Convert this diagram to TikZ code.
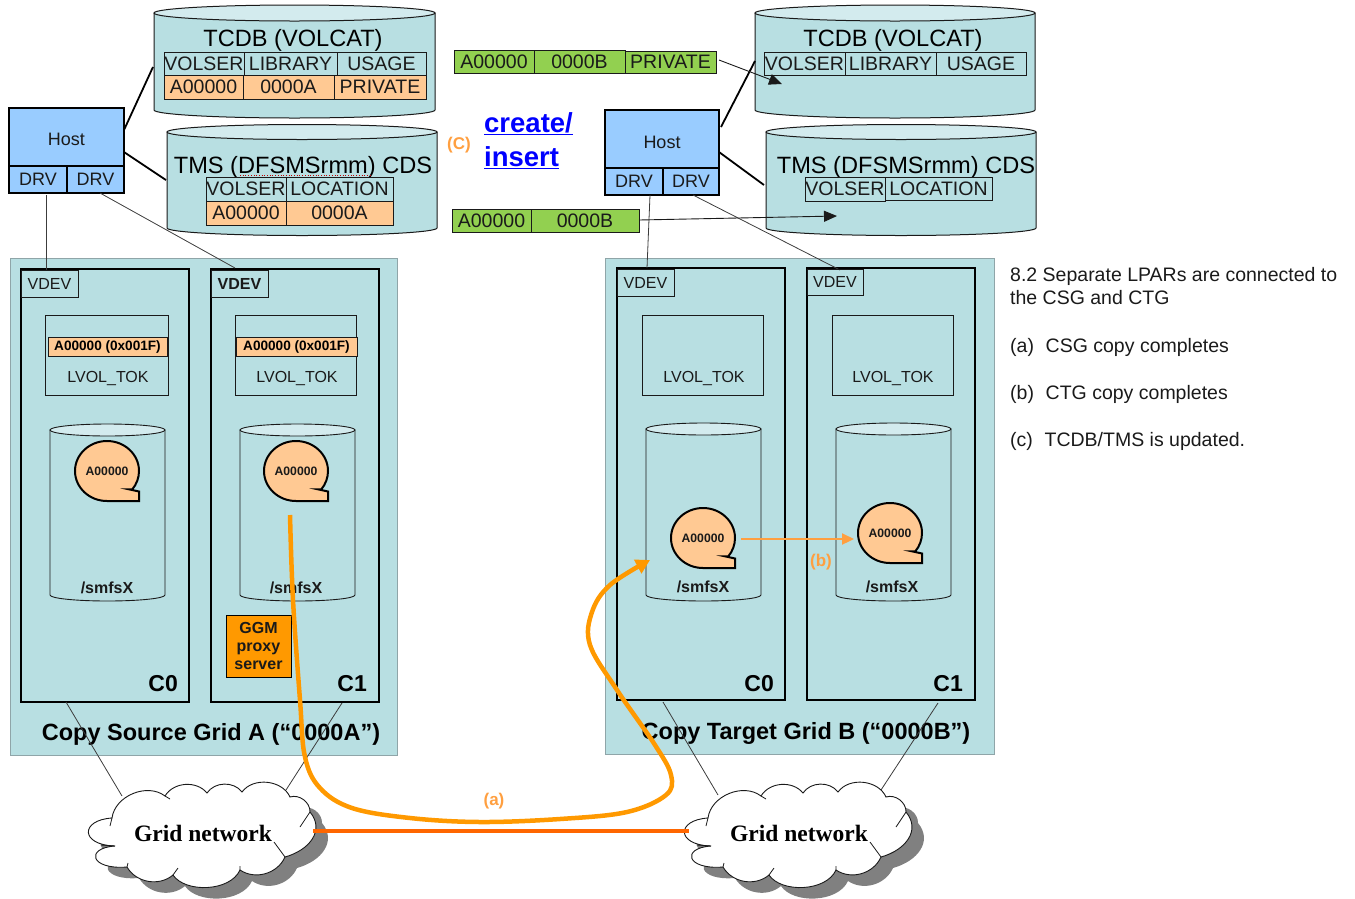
\documentclass[tikz,border=0pt]{standalone}
\usepackage{fontspec}
\setmainfont{Liberation Sans}
\newfontfamily\serifbf{Liberation Serif}
\usetikzlibrary{arrows.meta}
\definecolor{gridfill}{HTML}{B8DFE2}
\definecolor{gridedge}{HTML}{8FA5A8}
\definecolor{cyltop}{HTML}{D3EBEE}
\definecolor{hostblue}{HTML}{99CCFF}
\definecolor{peach}{HTML}{FFC993}
\definecolor{greenbar}{HTML}{92D050}
\definecolor{ggm}{HTML}{FF9900}
\definecolor{curveA}{HTML}{FF9900}
\definecolor{lineO}{HTML}{FF6600}
\definecolor{lblO}{HTML}{FF9F40}
\definecolor{ink}{HTML}{1A1A1A}
\newcommand\fsz[1]{\fontsize{#1}{\dimexpr#1pt*12/10\relax}\selectfont}
\newcommand\bx[6][]{%
  \pgfmathsetmacro\bxw{#5-#3}\pgfmathsetmacro\bxh{#6-#4}%
  \node[draw=ink,inner sep=0pt,outer sep=0pt,minimum width=\bxw pt,minimum height=\bxh pt,anchor=north west,#1] (#2) at (#3,#4) {\bxtext};}
\newcommand\bxtext{}
\newcommand\cell[7][]{\renewcommand\bxtext{#7}\bx[#1]{#2}{#3}{#4}{#5}{#6}}
% name x1 x2 ytop ysidebottom ry linewidth
\newcommand\cyl[7]{%
  \pgfmathsetmacro\crx{(#3-#2)/2}\pgfmathsetmacro\ccx{(#2+#3)/2}%
  \draw[fill=gridfill,draw=ink,line width=#7pt] (#2,#4) -- (#2,#5) arc[start angle=180,end angle=0,x radius=\crx,y radius=#6] -- (#3,#4) -- cycle;
  \draw[fill=cyltop,draw=ink,line width=#7pt] (\ccx,#4) ellipse[x radius=\crx,y radius=#6];
  \pgfmathsetmacro\cw{#3-#2}\pgfmathsetmacro\ch{#5-#4}\pgfmathsetmacro\ccy{(#4+#5)/2}%
  \node[inner sep=0pt,minimum width=\cw pt,minimum height=\ch pt] (#1) at (\ccx,\ccy) {};}
% name cx cy
\newcommand\tape[3]{%
  \draw[fill=peach,draw=black,line width=2pt,line join=miter] (#2,#3+30) arc[start angle=90,end angle=398,x radius=32,y radius=30] -- ++(-2.5,0) -- (#2+32,#3+20.5) -- (#2+32,#3+30) -- cycle;
  \node[font=\bfseries\fsz{12.2},text=ink,inner sep=0pt] (#1) at (#2,#3) {A00000};}
\newcommand\cloudoutline{(112,818) to[bend left=60] (165,796) to[bend left=55] (207,793) to[bend left=55] (242,792) to[bend left=60] (290,797) to[bend left=55] (310,812) .. controls (325,830) and (310,850) .. (285,857) to[bend left=50] (240,870) .. controls (230,892) and (185,893) .. (173,875) to[bend left=50] (127,867) .. controls (90,870) and (85,848) .. (115,846) .. controls (80,845) and (80,820) .. (112,818) -- cycle}
\newcommand\cloudbox[2]{%
  \begin{scope}[xshift=#2pt]
  \fill[black!50,shift={(12pt,-11pt)}] \cloudoutline;
  \draw[fill=white,draw=ink,line width=.9pt] \cloudoutline;
  \draw[ink,line width=.8pt] (165,796) -- (170,799) (115,846) -- (101,845) (112,818) -- (110,826) (285,857) -- (274,842) (310,812) -- (300,827) (173,875) -- (178,868) (240,870) -- (240,866) (127,867) -- (128,863);
  \node[font=\serifbf\bfseries\fsz{23.5},inner sep=0pt] (#1) at (203,833) {Grid network};
  \end{scope}}
\tikzset{
  thinlink/.style={draw=ink!85,line width=.8pt},
  hostlink/.style={draw=black,line width=1.8pt},
  cbox/.style={draw=black,line width=1.8pt,fill=gridfill},
  gridbox/.style={draw=gridedge,line width=.9pt,fill=gridfill},
  tbl/.style={font=\fsz{19.5},text=ink,line width=.9pt},
  hostbody/.style={font=\fsz{18},text=ink,fill=hostblue,line width=1.2pt,draw=black},
  vdev/.style={font=\fsz{16},text=ink,line width=.9pt},
  lvol/.style={line width=.9pt},
  lbl/.style={font=\bfseries\fsz{17},text=lblO,inner sep=0pt},
  notes/.style={font=\fsz{19.5},text=ink,anchor=west,inner sep=0pt,align=left},
  cname/.style={font=\bfseries\fsz{23},inner sep=0pt},
  smfs/.style={font=\bfseries\fsz{16},text=ink,inner sep=0pt},
  gridtitle/.style={font=\bfseries\fsz{23.5},text=black,inner sep=0pt},
  lvtext/.style={font=\fsz{16},text=ink,inner sep=0pt},
  title/.style={font=\fsz{23.6},text=black,inner sep=0pt}
}
\begin{document}
\begin{tikzpicture}[x=1pt,y=-1pt]
\useasboundingbox (0,0) rectangle (1355,898);
% ---- grid boxes
\cell[gridbox]{gridA}{10}{258}{397}{755}{}
\cell[gridbox]{gridB}{605}{258}{994}{754}{}
% ---- top-left cylinders and tables
\cyl{tcdbA}{154}{435}{13}{110}{8}{1}
\node[title] (tcdbAt) at (293,40) {TCDB (VOLCAT)};
\cell[tbl]{a1}{164}{52}{244}{75}{VOLSER}
\cell[tbl]{a2}{244}{52}{337}{75}{LIBRARY}
\cell[tbl]{a3}{337}{52}{426}{75}{USAGE}
\cell[tbl,fill=peach]{a4}{164}{75}{243}{99}{A00000}
\cell[tbl,fill=peach]{a5}{243}{75}{334}{99}{0000A}
\cell[tbl,fill=peach]{a6}{334}{75}{426}{99}{PRIVATE}
\cyl{tmsA}{167}{437}{132}{228}{7.5}{1}
\node[title] (tmsAt) at (303,167) {TMS (DFSMSrmm) CDS};
\coordinate (sq1) at (240,175.5);\coordinate (sq2) at (372,175.5);
\draw[red!75!black,line width=.7pt,dotted] (sq1) -- (sq2);
\cell[tbl]{b1}{206}{177}{286}{201}{VOLSER}
\cell[tbl]{b2}{286}{177}{393}{201}{LOCATION}
\cell[tbl,fill=peach]{b3}{206}{201}{286}{225}{A00000}
\cell[tbl,fill=peach]{b4}{286}{201}{393}{225}{0000A}
% ---- top-right cylinders and tables
\cyl{tcdbB}{755}{1035}{13}{110}{8}{1}
\node[title] (tcdbBt) at (893,40) {TCDB (VOLCAT)};
\cell[tbl]{c1}{764}{52}{845}{75}{VOLSER}
\cell[tbl]{c2}{845}{52}{936}{75}{LIBRARY}
\cell[tbl]{c3}{936}{52}{1026}{75}{USAGE}
\cyl{tmsB}{766}{1036}{132}{228}{7.5}{1}
\node[title] (tmsBt) at (906,167) {TMS (DFSMSrmm) CDS};
\cell[tbl]{d1}{805}{177}{885}{201}{VOLSER}
\cell[tbl]{d2}{885}{177}{992}{200}{LOCATION}
% ---- green bars
\cell[tbl,fill=greenbar]{g1}{454}{50}{534}{73}{A00000}
\cell[tbl,fill=greenbar]{g2}{534}{50}{625}{73}{0000B}
\cell[tbl,fill=greenbar]{g3}{625}{51}{716}{73}{PRIVATE}
\cell[tbl,fill=greenbar]{g4}{452}{209}{531}{232}{A00000}
\cell[tbl,fill=greenbar]{g5}{531}{209}{639}{232}{0000B}
% ---- hosts
\cell[hostbody]{hostA}{9}{108}{124}{166}{\raisebox{-8.5pt}[0pt][0pt]{Host}}
\cell[hostbody]{drvA1}{9}{166}{67}{193}{DRV}
\cell[hostbody]{drvA2}{67}{166}{124}{193}{DRV}
\draw[black,line width=2pt] (hostA.south west) -- (hostA.north west) -- (hostA.north east) -- (hostA.south east);
\cell[hostbody]{hostB}{605}{110}{719}{168}{\raisebox{-9.5pt}[0pt][0pt]{Host}}
\cell[hostbody]{drvB1}{605}{168}{663}{195}{DRV}
\cell[hostbody]{drvB2}{663}{168}{719}{195}{DRV}
\draw[black,line width=2pt] (hostB.south west) -- (hostB.north west) -- (hostB.north east) -- (hostB.south east);
% ---- host links
\coordinate (l1) at (124,130);\coordinate (l2) at (153,67);
\coordinate (l3) at (124,152);\coordinate (l4) at (166,180);
\coordinate (l5) at (721,127);\coordinate (l6) at (755,61);
\coordinate (l7) at (719,152);\coordinate (l8) at (764,185);
\draw[hostlink] (l1) -- (l2);
\draw[hostlink] (l3) -- (l4);
\draw[hostlink] (l5) -- (l6);
\draw[hostlink] (l7) -- (l8);
% ---- component boxes
\cell[cbox]{c0A}{21}{269}{189}{702}{}
\cell[cbox]{c1A}{211}{269}{379}{702}{}
\cell[cbox]{c0B}{617}{268}{785}{700}{}
\cell[cbox]{c1B}{807}{268}{975}{700}{}
\node[cname,anchor=east] (c0Al) at (178,684) {C0};
\node[cname,anchor=east] (c1Al) at (367,684) {C1};
\node[cname,anchor=east] (c0Bl) at (774,684) {C0};
\node[cname,anchor=east] (c1Bl) at (963,684) {C1};
% ---- drive links
\coordinate (m1) at (46,195);\coordinate (m2) at (46,270);
\coordinate (m3) at (100,193);\coordinate (m4) at (235,268);
\coordinate (m5) at (650,195);\coordinate (m6) at (647,268);
\coordinate (m7) at (693,195);\coordinate (m8) at (840,270);
\draw[thinlink] (m1) -- (m2);
\draw[thinlink] (m3) -- (m4);
\draw[thinlink] (m5) -- (m6);
\draw[thinlink] (m7) -- (m8);
% ---- VDEV
\cell[vdev]{v1}{21}{270}{78}{297}{VDEV}
\cell[vdev,font=\bfseries\fsz{16}]{v2}{211}{270}{268}{297}{VDEV}
\cell[vdev]{v3}{617}{269}{674}{296}{VDEV}
\cell[vdev]{v4}{807}{269}{863}{295}{VDEV}
% ---- LVOL_TOK
\cell[lvol]{t1}{45}{315}{168}{395}{}
\cell[lvol]{t2}{235}{315}{356}{395}{}
\cell[lvol]{t3}{642}{315}{763}{395}{}
\cell[lvol]{t4}{832}{315}{953}{395}{}
\cell[lvol,fill=peach,font=\bfseries\fsz{13.6},line width=.7pt]{s1}{48}{337}{167}{356}{A00000 (0x001F)}
\cell[lvol,fill=peach,font=\bfseries\fsz{13.6}]{s2}{236}{337}{357}{356}{A00000 (0x001F)}
\node[lvtext] (t1l) at (108,378.5) {LVOL\_TOK};
\node[lvtext] (t2l) at (297,378.5) {LVOL\_TOK};
\node[lvtext] (t3l) at (704,378.5) {LVOL\_TOK};
\node[lvtext] (t4l) at (893,378.5) {LVOL\_TOK};
% ---- small cylinders
\cyl{fs1}{50}{165}{430}{595}{6}{.9}
\cyl{fs2}{240}{355}{430}{595}{6}{.9}
\cyl{fs3}{646}{761}{429}{595}{6}{.9}
\cyl{fs4}{836}{951}{429}{595}{6}{.9}
\node[smfs] (fs1l) at (107,588) {/smfsX};
\node[smfs] (fs2l) at (296,588) {/smfsX};
\node[smfs] (fs3l) at (703,587) {/smfsX};
\node[smfs] (fs4l) at (892,587) {/smfsX};
\tape{tp1}{107}{471}
\tape{tp2}{296}{471}
\tape{tp3}{703}{538}
\tape{tp4}{890}{533}
% ---- GGM
\cell[fill=ggm,draw=black,line width=.9pt,font=\bfseries\fsz{16},align=center,text=ink]{ggmbox}{226}{615}{291}{677}{GGM\\[-1.5pt]proxy\\[-1.5pt]server}
% ---- grid titles
\node[gridtitle] (gAt) at (211,734) {Copy Source Grid A (“0000A”)};
\node[gridtitle] (gBt) at (806,733) {Copy Target Grid B (“0000B”)};
% ---- links to clouds
\coordinate (n1) at (66,702);\coordinate (n2) at (122,796);
\coordinate (n3) at (342,703);\coordinate (n4) at (286,790);
\coordinate (n5) at (663,702);\coordinate (n6) at (718,795);
\coordinate (n7) at (938,703);\coordinate (n8) at (881,790);
\draw[thinlink] (n1) -- (n2);
\draw[thinlink] (n3) -- (n4);
\draw[thinlink] (n5) -- (n6);
\draw[thinlink] (n7) -- (n8);
% ---- clouds
\cloudbox{cloudA}{0}
\cloudbox{cloudB}{596}
% ---- arrows
\coordinate (q1) at (719,60);\coordinate (q2) at (782,84);
\coordinate (q3) at (639,220);\coordinate (q4) at (837,216);
\draw[ink,line width=.9pt,-{Triangle[length=13pt,width=11pt]}] (q1) -- (q2);
\draw[ink,line width=.9pt,-{Triangle[length=13pt,width=11pt]}] (q3) -- (q4);
\coordinate (q5) at (741,539);\coordinate (q6) at (854,539);
\draw[lblO,line width=2.2pt,-{Triangle[length=12pt,width=11pt]}] (q5) -- (q6);
\coordinate (ga) at (313,831);\coordinate (gb) at (689,831);
\draw[lineO,line width=3.8pt] (ga) -- (gb);
\draw[curveA,line width=4.5pt,-{Triangle[length=14pt,width=15pt]}] plot[smooth,tension=.6] coordinates {(290,515) (293,600) (300,700) (305,757) (320,788) (352,808) (410,818) (480,822) (560,819) (627,812) (666,795) (671,775) (655,745) (617,690) (590,645) (592,612) (610,585) (650,560)};
% ---- labels
\node[lbl] (la) at (494,801) {(a)};
\node[lbl] (lb) at (821,562) {(b)};
\node[lbl] (lc) at (459,145) {(C)};
\node[font=\bfseries\fsz{27.5},text=blue,inner sep=0pt,anchor=north west,align=left] (ci) at (484,112) {\underline{create/}\\[1.5pt]\underline{insert}};
% ---- notes
\node[notes,anchor=north west] (n82) at (1010,267) {8.2 Separate LPARs are connected to\\the CSG and CTG};
\node[notes] (na) at (1010,347.5) {(a)\hspace{0.6em}CSG copy completes};
\node[notes] (nb) at (1010,394.5) {(b)\hspace{0.6em}CTG copy completes};
\node[notes] (nc) at (1010,441.5) {(c)\hspace{0.6em}TCDB/TMS is updated.};
\end{tikzpicture}
\end{document}
